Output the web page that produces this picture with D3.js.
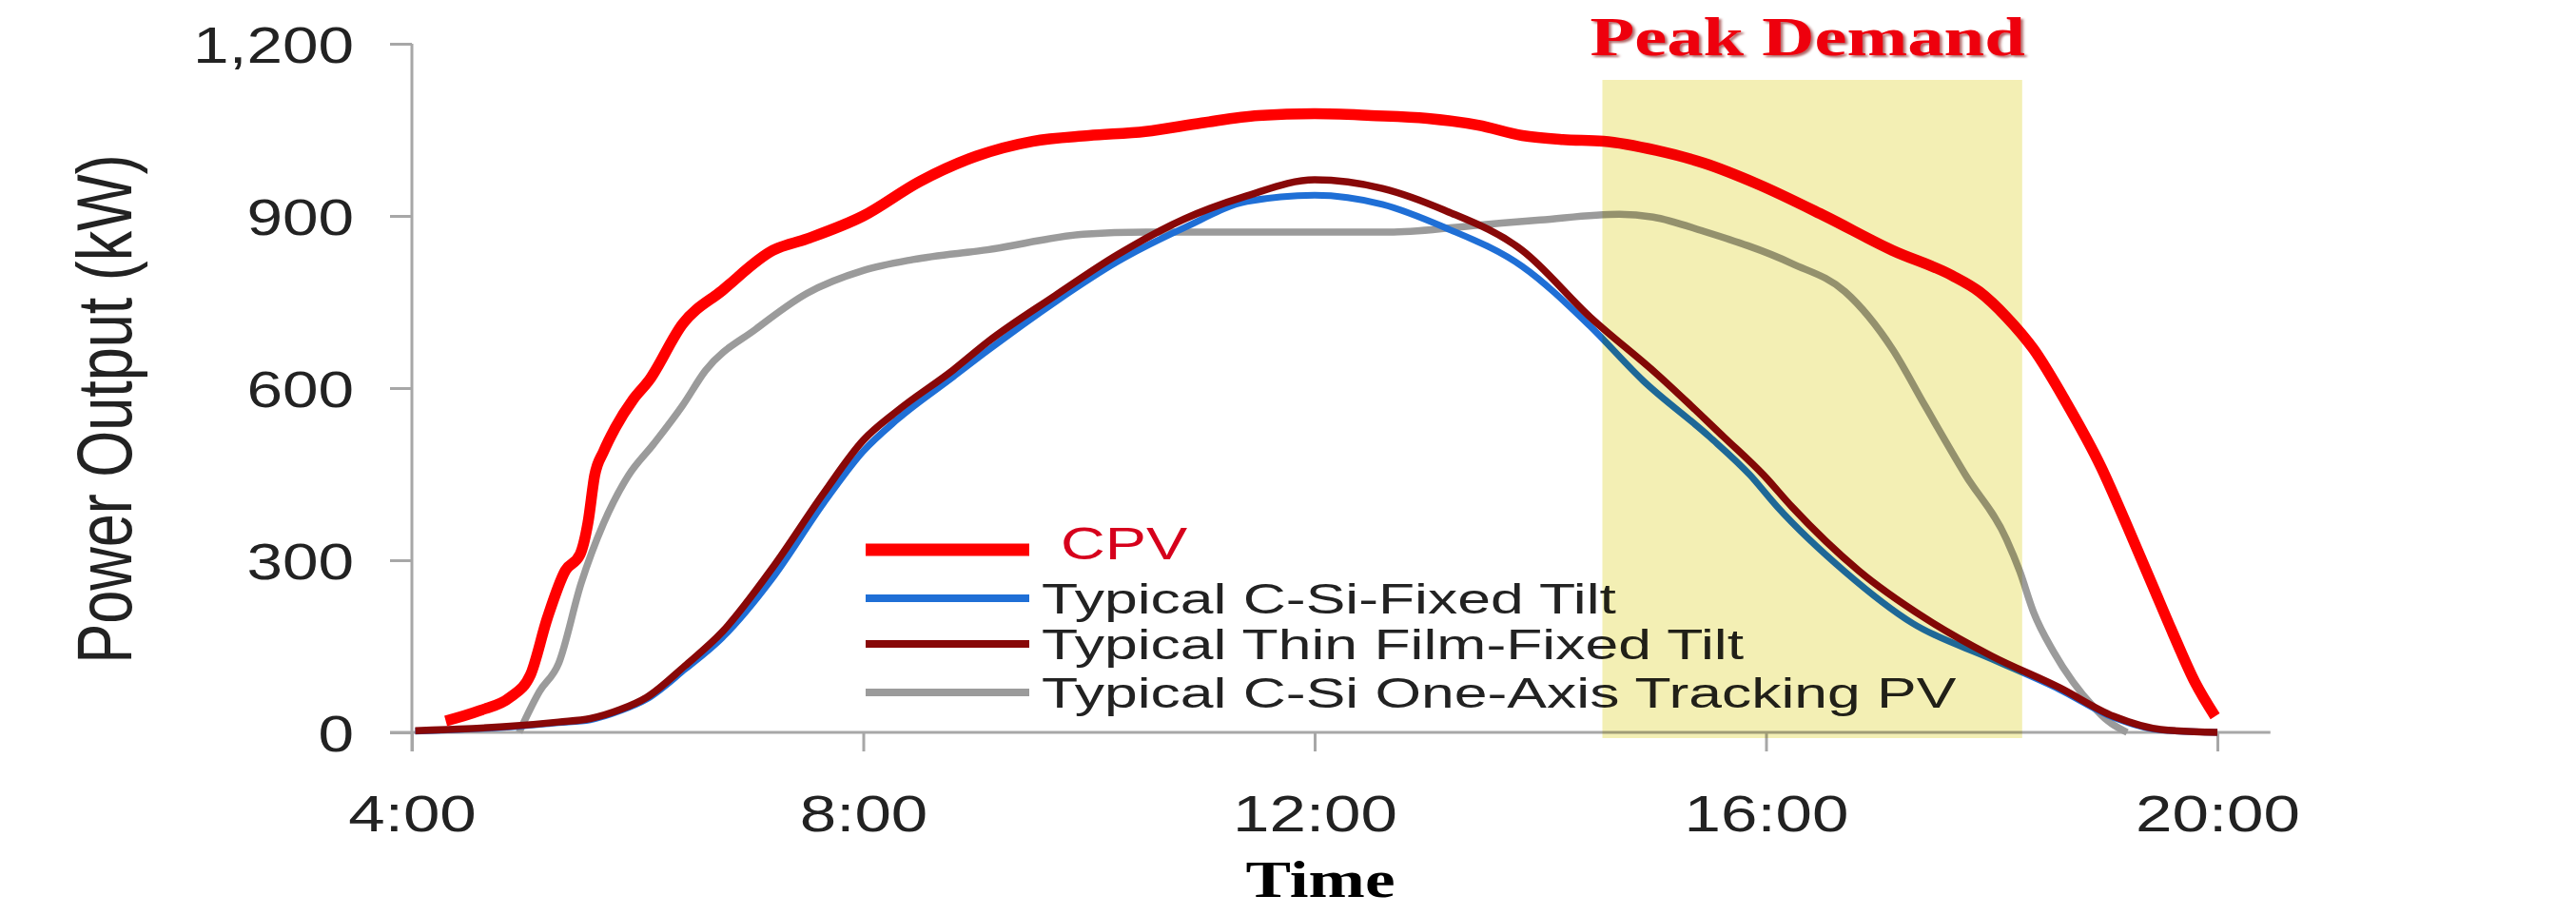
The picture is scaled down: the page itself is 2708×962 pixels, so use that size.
<!DOCTYPE html>
<html><head><meta charset="utf-8">
<script src="https://cdn.jsdelivr.net/npm/d3@7"></script>
<style>html,body{margin:0;padding:0;background:#fff;} svg{display:block}</style>
</head><body>
<svg id="chart" width="2708" height="962"></svg>
<script>
// ---------- data ----------
const xTicks = [4, 8, 12, 16, 20];
const xTickLabels = ["4:00", "8:00", "12:00", "16:00", "20:00"];
const yTicks = [0, 300, 600, 900, 1200];
const yTickLabels = ["0", "300", "600", "900", "1,200"];
const seriesNames = ["CPV", "Typical C-Si-Fixed Tilt", "Typical Thin Film-Fixed Tilt", "Typical C-Si One-Axis Tracking PV"];
const peakWindow = [14.55, 18.27];
const peakLabel = "Peak Demand";
const xTitle = "Time";
const yTitle = "Power Output (kW)";

const cpvHours  = [4.3, 4.6, 4.87, 5.05, 5.2, 5.36, 5.49, 5.56, 5.62, 5.7, 5.8, 5.96, 6.1, 6.4, 6.75, 7.2, 7.5, 8.0, 8.5, 9.0, 9.5, 10.0, 10.5, 11.0, 11.5, 12.0, 12.5, 13.0, 13.45, 13.84, 14.2, 14.56, 15.03, 15.45, 15.92, 16.52, 17.12, 17.65, 17.89, 18.13, 18.37, 18.66, 18.97, 19.2, 19.43, 19.61, 19.8, 19.98];
const cpvValues = [20, 38, 61, 100, 199, 282, 310, 365, 448, 490, 530, 580, 613, 712, 770, 840, 860, 900, 960, 1004, 1030, 1040, 1047, 1062, 1075, 1078, 1075, 1070, 1058, 1040, 1033, 1030, 1014, 992, 956, 900, 840, 796, 768, 724, 668, 575, 462, 360, 254, 171, 88, 28];

const csiHours  = [4.03, 4.9, 5.3, 5.58, 5.85, 6.08, 6.42, 6.75, 7.2, 7.65, 8.0, 8.3, 8.8, 9.1, 9.7, 10.25, 10.85, 11.4, 12.0, 12.6, 13.15, 13.84, 14.44, 14.91, 15.5, 15.86, 16.1, 16.7, 17.3, 18.0, 18.6, 19.08, 19.5, 20.0];
const csiValues = [2, 10, 17, 22, 38, 58, 110, 165, 270, 400, 490, 545, 620, 665, 750, 820, 880, 925, 936, 920, 880, 812, 708, 613, 515, 448, 393, 280, 190, 128, 75, 26, 4, 0];

const thinHours  = [4.03, 4.9, 5.3, 5.58, 5.85, 6.08, 6.42, 6.75, 7.2, 7.65, 8.0, 8.3, 8.8, 9.1, 9.7, 10.25, 10.85, 11.4, 12.0, 12.6, 13.15, 13.84, 14.44, 15.03, 15.63, 15.98, 16.23, 16.82, 17.41, 18.0, 18.6, 19.08, 19.5, 20.0];
const thinValues = [3, 11, 18, 24, 40, 61, 116, 175, 288, 417, 509, 560, 632, 680, 761, 832, 895, 935, 963, 948, 910, 840, 724, 625, 514, 448, 393, 282, 199, 133, 78, 28, 5, 0];

const trackHours  = [4.95, 5.13, 5.3, 5.5, 5.7, 5.92, 6.14, 6.4, 6.6, 7.05, 7.5, 8.0, 8.44, 9.1, 9.95, 10.5, 12.0, 12.7, 13.45, 14.0, 14.7, 15.0, 15.45, 16.23, 16.7, 17.12, 17.41, 17.77, 18.13, 18.25, 18.37, 18.55, 18.72, 18.9, 19.03, 19.2];
const trackValues = [0, 71, 120, 260, 365, 448, 502, 570, 630, 703, 765, 805, 824, 841, 868, 872, 872, 872, 884, 893, 903, 898, 873, 817, 768, 668, 569, 448, 337, 280, 210, 140, 88, 45, 20, 0];

// ---------- layout ----------
const svg = d3.select("#chart");
const x = d3.scaleLinear().domain([4, 20]).range([433, 2331]);
const y = d3.scaleLinear().domain([0, 1200]).range([770, 46]);
const axisColor = "#a7a7a7";
const textColor = "#222";
const sans = "'Liberation Sans', Arial, sans-serif";
const serif = "'Liberation Serif', 'Times New Roman', serif";

const defs = svg.append("defs");
const f = defs.append("filter").attr("id", "shadow").attr("x", "-5%").attr("y", "-20%").attr("width", "110%").attr("height", "140%");
f.append("feDropShadow").attr("dx", 2).attr("dy", 2).attr("stdDeviation", 1.2).attr("flood-color", "#7a0000").attr("flood-opacity", 0.6);

// Y axis
const yAxis = d3.axisLeft(y).tickValues(yTicks).tickSize(23).tickSizeOuter(0)
  .tickFormat((d, i) => yTickLabels[i]);
const gy = svg.append("g").attr("transform", `translate(${x(4)},0)`).call(yAxis);
gy.select(".domain").remove();
gy.selectAll(".tick line").attr("stroke", axisColor).attr("stroke-width", 3);
gy.selectAll(".tick text").attr("x", 0).attr("dy", "0.36em")
  .attr("transform", "translate(-61,0) scale(1.25,1)")
  .attr("text-anchor", "end").attr("fill", textColor)
  .style("font-family", sans).style("font-size", "54px");

// X axis
const xAxis = d3.axisBottom(x).tickValues(xTicks).tickSize(20).tickSizeOuter(0)
  .tickFormat((d, i) => xTickLabels[i]);
const gx = svg.append("g").attr("transform", `translate(0,${y(0)})`).call(xAxis);
gx.select(".domain").remove();
gx.selectAll(".tick line").attr("stroke", axisColor).attr("stroke-width", 3);
gx.selectAll(".tick text").attr("y", 0).attr("dy", 0)
  .attr("transform", "translate(0,104) scale(1.28,1)")
  .attr("fill", textColor)
  .style("font-family", sans).style("font-size", "54px");

// axis lines
svg.append("line").attr("x1", x(4)).attr("x2", x(4)).attr("y1", y(1200)).attr("y2", y(0) + 20)
  .attr("stroke", axisColor).attr("stroke-width", 3);
svg.append("line").attr("x1", x(4) - 23).attr("x2", x(20.47)).attr("y1", y(0)).attr("y2", y(0))
  .attr("stroke", axisColor).attr("stroke-width", 3);

// axis titles
svg.append("text").text(yTitle)
  .attr("transform", "translate(138,430) rotate(-90) scale(1,1.3)")
  .attr("text-anchor", "middle").attr("fill", textColor)
  .style("font-family", sans).style("font-size", "63px");
svg.append("text").text(xTitle)
  .attr("transform", "translate(1388,943) scale(1.32,1)")
  .attr("text-anchor", "middle").attr("fill", "#000")
  .style("font-family", serif).style("font-weight", "bold").style("font-size", "54px");

// series
const line = d3.line().x(d => x(d[0])).y(d => y(d[1])).curve(d3.curveMonotoneX);
const series = [
  { hours: trackHours, values: trackValues, color: "#9b9b9b", width: 7.5 },
  { hours: csiHours, values: csiValues, color: "#1f6fd6", width: 7 },
  { hours: thinHours, values: thinValues, color: "#880808", width: 7.5 },
  { hours: cpvHours, values: cpvValues, color: "#ff0000", width: 11.5 }
];
series.forEach(s => {
  svg.append("path").datum(s.hours.map((h, i) => [h, s.values[i]]))
    .attr("d", line).attr("fill", "none").attr("stroke", s.color)
    .attr("stroke-width", s.width).attr("stroke-linejoin", "round");
});

// legend
const legendItems = [
  { name: seriesNames[0], color: "#ff0000", width: 13, ly: 578, tx: 1115, ty: 588, size: 48, sx: 1.35, fill: "#d6001c" },
  { name: seriesNames[1], color: "#1f6fd6", width: 8, ly: 629, tx: 1095, ty: 645, size: 44, sx: 1.42, fill: textColor },
  { name: seriesNames[2], color: "#880808", width: 8, ly: 677, tx: 1095, ty: 693, size: 44, sx: 1.42, fill: textColor },
  { name: seriesNames[3], color: "#9b9b9b", width: 8, ly: 728, tx: 1095, ty: 744, size: 44, sx: 1.42, fill: textColor }
];
const lg = svg.append("g");
legendItems.forEach(it => {
  lg.append("line").attr("x1", 910).attr("x2", 1082).attr("y1", it.ly).attr("y2", it.ly)
    .attr("stroke", it.color).attr("stroke-width", it.width);
  lg.append("text").text(it.name)
    .attr("transform", `translate(${it.tx},${it.ty}) scale(${it.sx},1)`)
    .attr("fill", it.fill)
    .style("font-family", sans).style("font-size", it.size + "px");
});

// peak demand band (multiplied over everything)
svg.append("rect")
  .attr("x", x(peakWindow[0])).attr("width", x(peakWindow[1]) - x(peakWindow[0]))
  .attr("y", 84).attr("height", y(0) + 6 - 84)
  .attr("fill", "#f3efb4").style("mix-blend-mode", "multiply");

svg.append("text").text(peakLabel)
  .attr("transform", `translate(${(x(peakWindow[0]) + x(peakWindow[1])) / 2 - 5},58) scale(1.32,1)`)
  .attr("text-anchor", "middle").attr("fill", "#ee0010").attr("filter", "url(#shadow)")
  .style("font-family", serif).style("font-weight", "bold").style("font-size", "58px");
</script>
</body></html>
